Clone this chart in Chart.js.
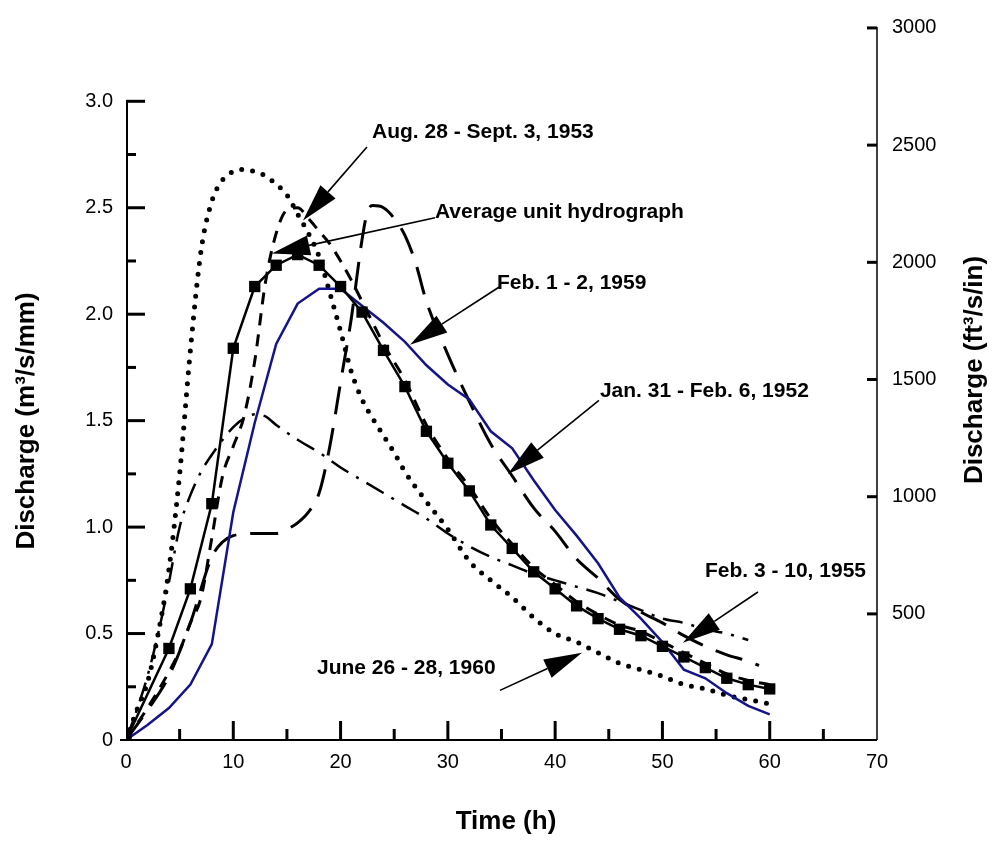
<!DOCTYPE html>
<html><head><meta charset="utf-8">
<script src="https://cdn.jsdelivr.net/npm/chart.js@4.4.1/dist/chart.umd.min.js"></script>
<style>html,body{margin:0;padding:0;background:#fff}#wrap{width:994px;height:842px;position:relative}</style>
</head><body><div id="wrap"><canvas id="c"></canvas></div>
<script>
// ---------- DATA ----------
const avgHours = [0,4,6,8,10,12,14,16,18,20,22,24,26,28,30,32,34,36,38,40,42,44,46,48,50,52,54,56,58,60];
const avgValues = [0,0.43,0.71,1.11,1.84,2.13,2.23,2.28,2.23,2.13,2.01,1.83,1.66,1.45,1.30,1.17,1.01,0.90,0.79,0.71,0.63,0.57,0.52,0.49,0.44,0.39,0.34,0.29,0.26,0.24];

const aug1953Hours = [0,2,4,5,6,7,8,9,10,11,12,13,14,15,16,17,18,19,20,21,22,23,24,26,28,30,32,34,36,38,40,42,44,46,48,50,52,54,56,58,60];
const aug1953Values = [0,0.15,0.32,0.42,0.55,0.67,0.95,1.24,1.38,1.52,1.78,2.15,2.38,2.49,2.50,2.45,2.39,2.33,2.25,2.16,2.06,1.96,1.86,1.69,1.48,1.32,1.19,1.04,0.92,0.81,0.73,0.65,0.59,0.54,0.51,0.46,0.41,0.36,0.31,0.28,0.26];

const feb1959Hours = [0,2,4,6,8,10,12,14,16,18,20,22,24,26,28,30,32,34,36,38,40,42,44,46,48,50,52,54,56,58,60];
const feb1959Values = [0,0.07,0.15,0.26,0.45,1.07,1.49,1.86,2.05,2.12,2.12,2.04,1.96,1.87,1.76,1.67,1.60,1.45,1.37,1.22,1.08,0.96,0.83,0.67,0.57,0.46,0.33,0.29,0.22,0.16,0.12];

const jan1952Hours = [0,2,4,6,8,9,10,12,14,15,16,17,18,19,20,21,22,22.5,23,24,25,26,27,28,30,32,34,36,38,40,42,44,46,48,50,52,54,56,58,59];
const jan1952Values = [0,0.14,0.30,0.55,0.86,0.93,0.96,0.97,0.97,0.99,1.02,1.07,1.16,1.38,1.68,1.98,2.35,2.48,2.51,2.50,2.45,2.37,2.24,2.06,1.81,1.59,1.39,1.24,1.09,0.98,0.85,0.76,0.66,0.60,0.55,0.49,0.44,0.40,0.37,0.35];

const feb1955Hours = [0,1,2,3,4,5,6,7,8,10,11,12,13,14,16,18,20,22,24,26,28,30,32,34,36,38,40,42,44,46,48,50,52,54,56,58];
const feb1955Values = [0,0.14,0.30,0.50,0.74,1.00,1.15,1.26,1.34,1.47,1.51,1.53,1.52,1.48,1.41,1.35,1.28,1.22,1.16,1.10,1.04,0.97,0.91,0.86,0.82,0.78,0.75,0.72,0.69,0.65,0.61,0.57,0.55,0.52,0.50,0.47];

const jun1960Hours = [0,1,2,3,4,5,6,7,8,9,10,11,12,13,14,15,16,17,18,19,20,21,22,23,24,25,26,28,30,32,34,36,38,40,42,44,46,48,50,52,54,56,58,60];
const jun1960Values = [0,0.14,0.27,0.50,0.80,1.25,1.83,2.30,2.53,2.63,2.67,2.68,2.67,2.65,2.61,2.56,2.47,2.38,2.27,2.10,1.92,1.73,1.60,1.51,1.43,1.35,1.26,1.12,0.99,0.84,0.75,0.67,0.575,0.50,0.46,0.41,0.36,0.33,0.30,0.26,0.24,0.21,0.19,0.17];

const xTickValues = [0,10,20,30,40,50,60,70];
const xMinorValues = [5,15,25,35,45,55,65];
const leftTickValues = [0,0.5,1,1.5,2,2.5,3];
const leftTickLabels = ['0','0.5','1.0','1.5','2.0','2.5','3.0'];
const leftMinorValues = [0.25,0.75,1.25,1.75,2.25,2.75];
const rightTickValues = [500,1000,1500,2000,2500,3000];
const rightTickLabels = ['500','1000','1500','2000','2500','3000'];

const xTitle = 'Time (h)';
const leftTitle = 'Discharge (m\u00B3/s/mm)';
const rightTitle = 'Discharge (ft\u00B3/s/in)';

// annotation label positions and arrows, in data units (h, m3/s/mm)
const annotations = [
  {text:'Aug. 28 - Sept. 3, 1953', tx:22.93, ty:2.854, fx:22.46, fy:2.785, px:16.5, py:2.44},
  {text:'Average unit hydrograph', tx:28.8, ty:2.48, fx:28.8, fy:2.453, px:13.6, py:2.285},
  {text:'Feb. 1 - 2, 1959', tx:34.58, ty:2.146, fx:34.86, fy:2.13, px:26.47, py:1.856},
  {text:'Jan. 31 - Feb. 6, 1952', tx:44.17, ty:1.637, fx:44.08, fy:1.595, px:35.6, py:1.25},
  {text:'Feb. 3 - 10, 1955', tx:53.96, ty:0.793, fx:58.9, fy:0.695, px:51.9, py:0.457},
  {text:'June 26 - 28, 1960', tx:17.8, ty:0.336, fx:34.86, fy:0.233, px:42.5, py:0.41}
];

// ---------- CHART ----------
const FONT = "'Liberation Sans', Arial, Helvetica, sans-serif";
const pts = (h, v) => h.map((x, i) => ({x, y: v[i]}));

const axesPlugin = {
  id: 'axesDraw',
  beforeDatasetsDraw(chart) {
    const ctx = chart.ctx, xs = chart.scales.x, yl = chart.scales.y, yr = chart.scales.y2;
    const x0 = xs.getPixelForValue(0), x70 = xs.getPixelForValue(70), y0 = yl.getPixelForValue(0);
    ctx.save();
    ctx.strokeStyle = '#000';
    ctx.lineCap = 'butt';
    // x axis
    ctx.lineWidth = 2;
    ctx.beginPath(); ctx.moveTo(x0 - 6, y0); ctx.lineTo(x70, y0); ctx.stroke();
    // left axis
    ctx.beginPath(); ctx.moveTo(x0 + 1, y0); ctx.lineTo(x0 + 1, yl.getPixelForValue(3)); ctx.stroke();
    // right axis
    ctx.lineWidth = 1.5;
    ctx.beginPath(); ctx.moveTo(x70, y0); ctx.lineTo(x70, yr.getPixelForValue(3000) - 1); ctx.stroke();
    ctx.lineWidth = 3;
    xTickValues.forEach(v => { const p = xs.getPixelForValue(v); if (v === 0 || v === 70) return; ctx.beginPath(); ctx.moveTo(p, y0); ctx.lineTo(p, y0 - 19); ctx.stroke(); });
    xMinorValues.forEach(v => { const p = xs.getPixelForValue(v); ctx.beginPath(); ctx.moveTo(p, y0); ctx.lineTo(p, y0 - 11); ctx.stroke(); });
    leftTickValues.forEach(v => { if (v === 0) return; const p = yl.getPixelForValue(v); ctx.beginPath(); ctx.moveTo(x0, p); ctx.lineTo(x0 + 19, p); ctx.stroke(); });
    leftMinorValues.forEach(v => { const p = yl.getPixelForValue(v); ctx.beginPath(); ctx.moveTo(x0, p); ctx.lineTo(x0 + 10, p); ctx.stroke(); });
    rightTickValues.forEach(v => { const p = yr.getPixelForValue(v); ctx.beginPath(); ctx.moveTo(x70 - 10, p); ctx.lineTo(x70, p); ctx.stroke(); });
    // titles
    ctx.fillStyle = '#000';
    ctx.font = 'bold 26px ' + FONT;
    ctx.textAlign = 'center'; ctx.textBaseline = 'middle';
    ctx.fillText(xTitle, 506, 822);
    ctx.save(); ctx.translate(27, 421); ctx.rotate(-Math.PI / 2); ctx.fillText(leftTitle, 0, 0); ctx.restore();
    ctx.save(); ctx.translate(975, 370); ctx.rotate(-Math.PI / 2); ctx.fillText(rightTitle, 0, 0); ctx.restore();
    ctx.restore();
  },
  afterDatasetsDraw(chart) {
    const ctx = chart.ctx, xs = chart.scales.x, yl = chart.scales.y;
    ctx.save();
    ctx.fillStyle = '#000'; ctx.strokeStyle = '#000';
    ctx.font = 'bold 21px ' + FONT;
    ctx.textAlign = 'left'; ctx.textBaseline = 'middle';
    annotations.forEach(a => {
      ctx.fillText(a.text, xs.getPixelForValue(a.tx), yl.getPixelForValue(a.ty));
      const fx = xs.getPixelForValue(a.fx), fy = yl.getPixelForValue(a.fy);
      const px = xs.getPixelForValue(a.px), py = yl.getPixelForValue(a.py);
      const dx = px - fx, dy = py - fy, len = Math.hypot(dx, dy), ux = dx / len, uy = dy / len;
      const L = 38, W = 10;
      const bx = px - ux * L, by = py - uy * L;
      ctx.lineWidth = 1.6;
      ctx.beginPath(); ctx.moveTo(fx, fy); ctx.lineTo(bx, by); ctx.stroke();
      ctx.beginPath(); ctx.moveTo(px, py); ctx.lineTo(bx - uy * W, by + ux * W); ctx.lineTo(bx + uy * W, by - ux * W); ctx.closePath(); ctx.fill();
    });
    ctx.restore();
  }
};

const tickFont = {family: FONT, size: 20};
new Chart(document.getElementById('c'), {
  type: 'line',
  data: {
    datasets: [
      {label: 'Average unit hydrograph', data: pts(avgHours, avgValues), borderColor: '#000', backgroundColor: '#000', borderWidth: 2.5, pointStyle: 'rect', pointRadius: 8, pointBorderWidth: 0, tension: 0},
      {label: 'Aug. 28 - Sept. 3, 1953', data: pts(aug1953Hours, aug1953Values), borderColor: '#000', borderWidth: 3, borderDash: [12, 9], pointRadius: 0, cubicInterpolationMode: 'monotone'},
      {label: 'Feb. 1 - 2, 1959', data: pts(feb1959Hours, feb1959Values), borderColor: '#14148a', borderWidth: 2.5, pointRadius: 0, tension: 0},
      {label: 'Jan. 31 - Feb. 6, 1952', data: pts(jan1952Hours, jan1952Values), borderColor: '#000', borderWidth: 3, borderDash: [28, 14], pointRadius: 0, cubicInterpolationMode: 'monotone'},
      {label: 'Feb. 3 - 10, 1955', data: pts(feb1955Hours, feb1955Values), borderColor: '#000', borderWidth: 2.5, borderDash: [20, 9, 3, 9], pointRadius: 0, cubicInterpolationMode: 'monotone'},
      {label: 'June 26 - 28, 1960', data: pts(jun1960Hours, jun1960Values), borderColor: '#000', borderWidth: 5, borderDash: [0, 11], borderCapStyle: 'round', pointRadius: 0, cubicInterpolationMode: 'monotone'}
    ]
  },
  options: {
    responsive: true, maintainAspectRatio: false, animation: false, devicePixelRatio: 1,
    layout: {padding: {top: 22, left: 0, right: 0, bottom: 0}},
    plugins: {legend: {display: false}, tooltip: {enabled: false}},
    scales: {
      x: {type: 'linear', position: 'bottom', min: 0, max: 70,
        grid: {display: false, drawTicks: false}, border: {display: false},
        afterBuildTicks: s => { s.ticks = xTickValues.map(v => ({value: v})); },
        ticks: {font: tickFont, color: '#000', padding: 10, maxRotation: 0, autoSkip: false, callback: (v, i) => String(xTickValues[i])},
        afterFit: s => { s.height = 102; }},
      y: {type: 'linear', position: 'left', min: 0, max: 3.349,
        grid: {display: false, drawTicks: false}, border: {display: false},
        afterBuildTicks: s => { s.ticks = leftTickValues.map(v => ({value: v})); },
        ticks: {font: tickFont, color: '#000', padding: 13, autoSkip: false, callback: (v, i) => leftTickLabels[i]},
        afterFit: s => { s.width = 126; }},
      y2: {type: 'linear', position: 'right', min: -38, max: 3004,
        grid: {display: false, drawTicks: false}, border: {display: false},
        afterBuildTicks: s => { s.ticks = rightTickValues.map(v => ({value: v})); },
        ticks: {font: tickFont, color: '#000', padding: 15, autoSkip: false, callback: (v, i) => rightTickLabels[i]},
        afterFit: s => { s.width = 117; }}
    }
  },
  plugins: [axesPlugin]
});
</script></body></html>
